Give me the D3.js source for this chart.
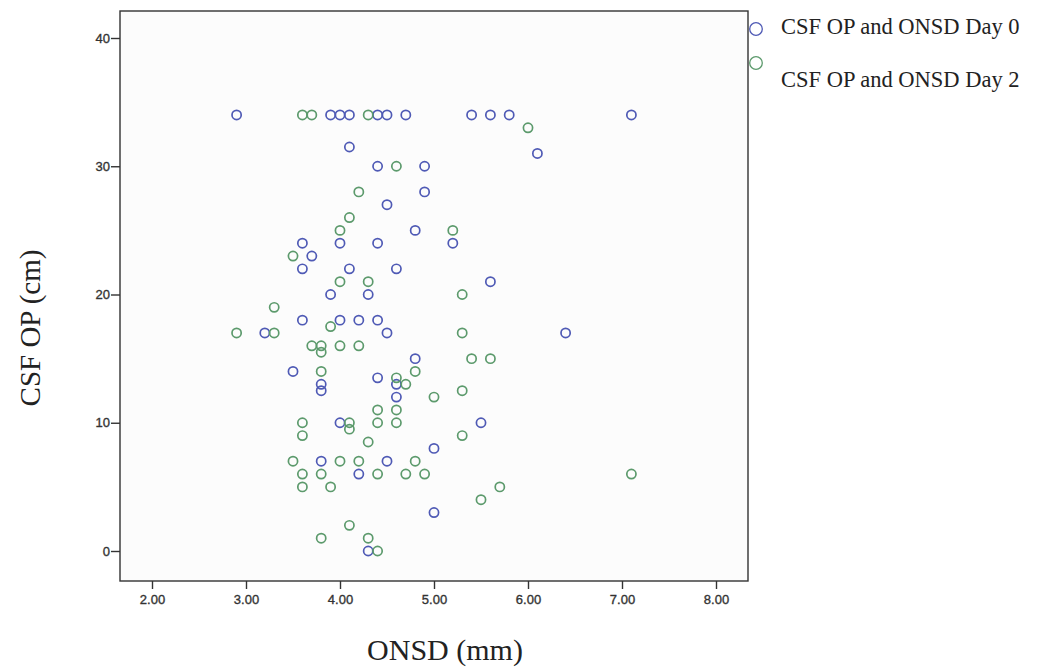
<!DOCTYPE html>
<html>
<head>
<meta charset="utf-8">
<script src="https://cdn.jsdelivr.net/npm/d3@7"></script>
<style>
  body { margin: 0; background: #fff; }
  .tick text { font-family: "Liberation Sans", Arial, sans-serif; font-size: 13px; fill: #333; stroke: #333; stroke-width: 0.35; }
  .tick line, .domain { stroke: #333; }
</style>
</head>
<body>
<svg width="1043" height="670"></svg>
<script>
// ONSD (mm) vs CSF OP (cm), day 0
const day0X = [2.9,3.9,4.0,4.1,4.4,4.5,4.7,5.4,5.6,5.8,7.1, 6.1,4.1, 4.4,4.9, 4.9, 4.5, 4.8,
  3.6,4.0,4.4,5.2, 3.7, 3.6,4.1,4.6, 5.6, 3.9,4.3, 3.6,4.0,4.2,4.4, 3.2,4.5,6.4, 4.8, 3.5, 4.4,
  3.8,4.6, 3.8, 4.6, 4.0,5.5, 5.0, 3.8,4.5, 4.2, 5.0, 4.3]
const day0Y = [34,34,34,34,34,34,34,34,34,34,34, 31,31.5, 30,30, 28, 27, 25,
  24,24,24,24, 23, 22,22,22, 21, 20,20, 18,18,18,18, 17,17,17, 15, 14, 13.5,
  13,13, 12.5, 12, 10,10, 8, 7,7, 6, 3, 0]

// day 2
const day2X = [3.6,3.7,4.3, 6.0, 4.6, 4.2, 4.1, 4.0,5.2, 3.5, 4.0,4.3, 5.3, 3.3, 3.9,
  2.9,3.3,5.3, 3.7,3.8,4.0,4.2, 3.8, 5.4,5.6, 3.8,4.8, 4.6, 4.7, 5.3, 5.0, 4.4,4.6,
  3.6,4.1,4.4,4.6, 4.1, 3.6,5.3, 4.3, 3.5,4.0,4.2,4.8, 3.6,3.8,4.4,4.7,4.9,7.1,
  3.6,3.9,5.7, 5.5, 4.1, 3.8,4.3, 4.4]
const day2Y = [34,34,34, 33, 30, 28, 26, 25,25, 23, 21,21, 20, 19, 17.5,
  17,17,17, 16,16,16,16, 15.5, 15,15, 14,14, 13.5, 13, 12.5, 12, 11,11,
  10,10,10,10, 9.5, 9,9, 8.5, 7,7,7,7, 6,6,6,6,6,6,
  5,5,5, 4, 2, 1,1, 0]

const xTicks = [2,3,4,5,6,7,8]
const yTicks = [0,10,20,30,40]
const seriesNames = ["CSF OP and ONSD Day 0", "CSF OP and ONSD Day 2"]
const colors = ["#4f5ab5", "#5c9a6c"]

const svg = d3.select("svg")
const pLeft = 120, pRight = 748, pTop = 11, pBottom = 581

const x = d3.scaleLinear().domain([2, 8]).range([152, 716])
const y = d3.scaleLinear().domain([0, 40]).range([551, 38])

svg.append("rect")
  .attr("x", pLeft).attr("y", pTop)
  .attr("width", pRight - pLeft).attr("height", pBottom - pTop)
  .attr("fill", "#fcfcfc")
  .attr("stroke", "#333").attr("stroke-width", 1.4)

const xAxis = d3.axisBottom(x).tickValues(xTicks).tickFormat(d3.format(".2f"))
  .tickSize(8).tickSizeOuter(0).tickPadding(6)
svg.append("g").attr("transform", `translate(0,${pBottom})`).call(xAxis)
  .call(g => g.select(".domain").remove())

const yAxis = d3.axisLeft(y).tickValues(yTicks).tickSize(9).tickSizeOuter(0).tickPadding(1)
svg.append("g").attr("transform", `translate(${pLeft},0)`).call(yAxis)
  .call(g => g.select(".domain").remove())

svg.selectAll(".tick line").attr("stroke-width", 1.4)

const sets = [
  day0X.map((v, i) => ({ x: v, y: day0Y[i], s: 0 })),
  day2X.map((v, i) => ({ x: v, y: day2Y[i], s: 1 }))
]

sets.forEach(pts => {
  svg.append("g").selectAll("circle")
    .data(pts).enter().append("circle")
    .attr("cx", d => x(d.x))
    .attr("cy", d => y(d.y))
    .attr("r", 4.6)
    .attr("fill", "none")
    .attr("stroke", d => colors[d.s])
    .attr("stroke-width", 1.7)
})

// legend
const leg = svg.append("g")
seriesNames.forEach((n, i) => {
  leg.append("circle")
    .attr("cx", 756).attr("cy", 29 + i * 34).attr("r", 6.3)
    .attr("fill", "none").attr("stroke", colors[i]).attr("stroke-width", 1.3)
  leg.append("text")
    .attr("x", 781).attr("y", 34 + i * 53)
    .attr("font-family", "Liberation Serif, Times New Roman, serif")
    .attr("font-size", 22.5).attr("fill", "#222")
    .text(n)
})

svg.append("text")
  .attr("transform", "translate(40,328) rotate(-90)")
  .attr("text-anchor", "middle")
  .attr("font-family", "Liberation Serif, Times New Roman, serif")
  .attr("font-size", 29).attr("fill", "#222")
  .text("CSF OP (cm)")

svg.append("text")
  .attr("x", 445).attr("y", 660)
  .attr("text-anchor", "middle")
  .attr("font-family", "Liberation Serif, Times New Roman, serif")
  .attr("font-size", 30).attr("fill", "#222")
  .text("ONSD (mm)")
</script>
</body>
</html>
